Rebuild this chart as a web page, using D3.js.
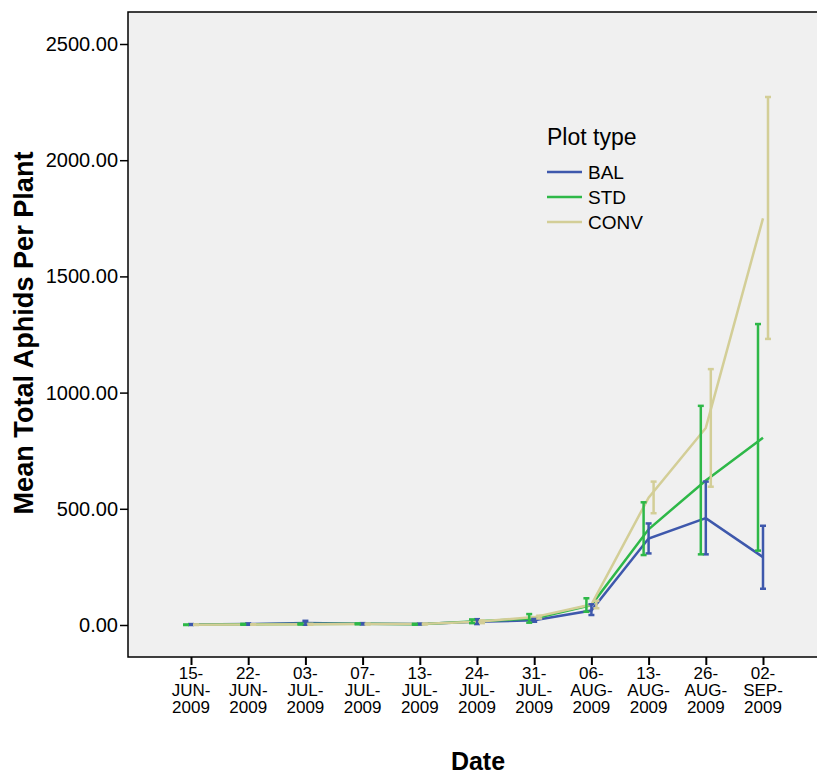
<!DOCTYPE html>
<html>
<head>
<meta charset="utf-8">
<script src="https://cdn.jsdelivr.net/npm/d3@7"></script>
<style>
  body { margin: 0; background: #fff; }
  svg { display: block; font-family: "Liberation Sans", Arial, sans-serif; }
</style>
</head>
<body>
<script>
// dates on the x axis (each label is split on "-" into three rows)
const dates = ["15-JUN-2009", "22-JUN-2009", "03-JUL-2009", "07-JUL-2009", "13-JUL-2009",
  "24-JUL-2009", "31-JUL-2009", "06-AUG-2009", "13-AUG-2009", "26-AUG-2009", "02-SEP-2009"];

const plotTypes = ["BAL", "STD", "CONV"];
const colors = ["#3E58AC", "#2EB848", "#D3CE97"];

// mean total aphids per plant
const balMean  = [2, 4, 9, 5, 4, 14, 20, 62, 372, 460, 292];
const stdMean  = [1, 3, 4, 5, 3, 16, 28, 86, 412, 622, 806];
const convMean = [1, 2, 3, 4, 4, 14, 34, 88, 548, 848, 1750];

// error bar ends
const balLow   = [0, 1, 1, 2, 2, 4, 14, 43, 308, 304, 156];
const balHigh  = [4, 7, 18, 8, 6, 25, 26, 89, 437, 617, 427];
const stdLow   = [0, 1, 2, 3, 1, 8, 10, 57, 301, 304, 320];
const stdHigh  = [2, 5, 6, 7, 5, 24, 47, 115, 528, 943, 1295];
const convLow  = [0, 1, 1, 2, 2, 8, 28, 72, 481, 595, 1231];
const convHigh = [2, 3, 5, 6, 6, 20, 40, 104, 617, 1101, 2272];

const yTicks = [0, 500, 1000, 1500, 2000, 2500];

const series = [
  {name: "BAL",  color: colors[0], mean: balMean,  low: balLow,  high: balHigh,  dodge: 0},
  {name: "STD",  color: colors[1], mean: stdMean,  low: stdLow,  high: stdHigh,  dodge: -5},
  {name: "CONV", color: colors[2], mean: convMean, low: convLow, high: convHigh, dodge: 5}
];

const width = 817, height = 775;
const frame = {left: 128, top: 12, right: 830, bottom: 657};

const svg = d3.select("body").append("svg")
    .attr("width", width)
    .attr("height", height);

const x = d3.scalePoint()
    .domain(dates)
    .range([frame.left + 63, frame.left + 635]);

const y = d3.scaleLinear()
    .domain([-137.7, 2637.7])
    .range([frame.bottom, frame.top]);

// plot background + frame
svg.append("rect")
    .attr("x", frame.left)
    .attr("y", frame.top)
    .attr("width", frame.right - frame.left)
    .attr("height", frame.bottom - frame.top)
    .attr("fill", "#F0F0F0")
    .attr("stroke", "#000")
    .attr("stroke-width", 1.5);

// y axis
const yAxis = svg.append("g")
    .attr("transform", `translate(${frame.left},0)`)
    .call(d3.axisLeft(y).tickValues(yTicks).tickFormat(d3.format(".2f")).tickSize(8).tickPadding(2));
yAxis.select(".domain").remove();
yAxis.selectAll("line").attr("stroke", "#000").attr("stroke-width", 1.5);
yAxis.selectAll("text").attr("font-size", 20).attr("fill", "#000")
    .attr("font-family", "Liberation Sans, Arial, sans-serif");

// x axis
const xAxis = svg.append("g")
    .attr("transform", `translate(0,${frame.bottom})`)
    .call(d3.axisBottom(x).tickSize(8).tickFormat(""));
xAxis.select(".domain").remove();
xAxis.selectAll("line").attr("stroke", "#000").attr("stroke-width", 2);

const xLabels = svg.append("g")
    .selectAll("text")
    .data(dates)
    .join("text")
        .attr("x", d => x(d))
        .attr("y", frame.bottom + 22)
        .attr("text-anchor", "middle")
        .attr("font-size", 17)
        .attr("fill", "#000");
xLabels.each(function(d) {
  const parts = d.split("-");
  const rows = [parts[0] + "-", parts[1] + "-", parts[2]];
  d3.select(this).selectAll("tspan")
    .data(rows)
    .join("tspan")
      .attr("x", x(d))
      .attr("dy", (r, i) => i === 0 ? 0 : 17)
      .text(r => r);
});

// axis titles
svg.append("text")
    .attr("x", 478)
    .attr("y", 770)
    .attr("text-anchor", "middle")
    .attr("font-size", 25)
    .attr("font-weight", "bold")
    .text("Date");

svg.append("text")
    .attr("transform", "translate(33,333) rotate(-90)")
    .attr("text-anchor", "middle")
    .attr("font-size", 27)
    .attr("font-weight", "bold")
    .attr("textLength", 363)
    .attr("lengthAdjust", "spacingAndGlyphs")
    .text("Mean Total Aphids Per Plant");

// lines
const line = d3.line()
    .x((v, i) => x(dates[i]))
    .y(v => y(v));

svg.append("g")
    .selectAll("path")
    .data(series)
    .join("path")
        .attr("d", s => line(s.mean))
        .attr("fill", "none")
        .attr("stroke", s => s.color)
        .attr("stroke-width", 2.5);

// error bars
const bars = svg.append("g")
    .selectAll("g")
    .data(series)
    .join("g")
        .attr("stroke", s => s.color)
        .attr("stroke-width", 2.5);

bars.each(function(s) {
  const g = d3.select(this);
  const rows = dates.map((d, i) => ({cx: x(d) + s.dodge, lo: s.low[i], hi: s.high[i]}));
  g.selectAll("line.v").data(rows).join("line").attr("class", "v")
      .attr("x1", r => r.cx).attr("x2", r => r.cx)
      .attr("y1", r => y(r.lo)).attr("y2", r => y(r.hi));
  g.selectAll("line.t").data(rows).join("line").attr("class", "t")
      .attr("x1", r => r.cx - 3).attr("x2", r => r.cx + 3)
      .attr("y1", r => y(r.hi)).attr("y2", r => y(r.hi));
  g.selectAll("line.b").data(rows).join("line").attr("class", "b")
      .attr("x1", r => r.cx - 3).attr("x2", r => r.cx + 3)
      .attr("y1", r => y(r.lo)).attr("y2", r => y(r.lo));
});

// legend
const legend = svg.append("g").attr("transform", "translate(547,0)");
legend.append("text")
    .attr("x", 0)
    .attr("y", 145)
    .attr("font-size", 23)
    .text("Plot type");

const items = legend.selectAll("g.item")
    .data(plotTypes)
    .join("g")
        .attr("class", "item")
        .attr("transform", (d, i) => `translate(0,${172 + i * 25})`);
items.append("line")
    .attr("x1", 0).attr("x2", 35)
    .attr("stroke", (d, i) => colors[i])
    .attr("stroke-width", 2.5);
items.append("text")
    .attr("x", 41)
    .attr("y", 7)
    .attr("font-size", 19)
    .text(d => d);
</script>
</body>
</html>
